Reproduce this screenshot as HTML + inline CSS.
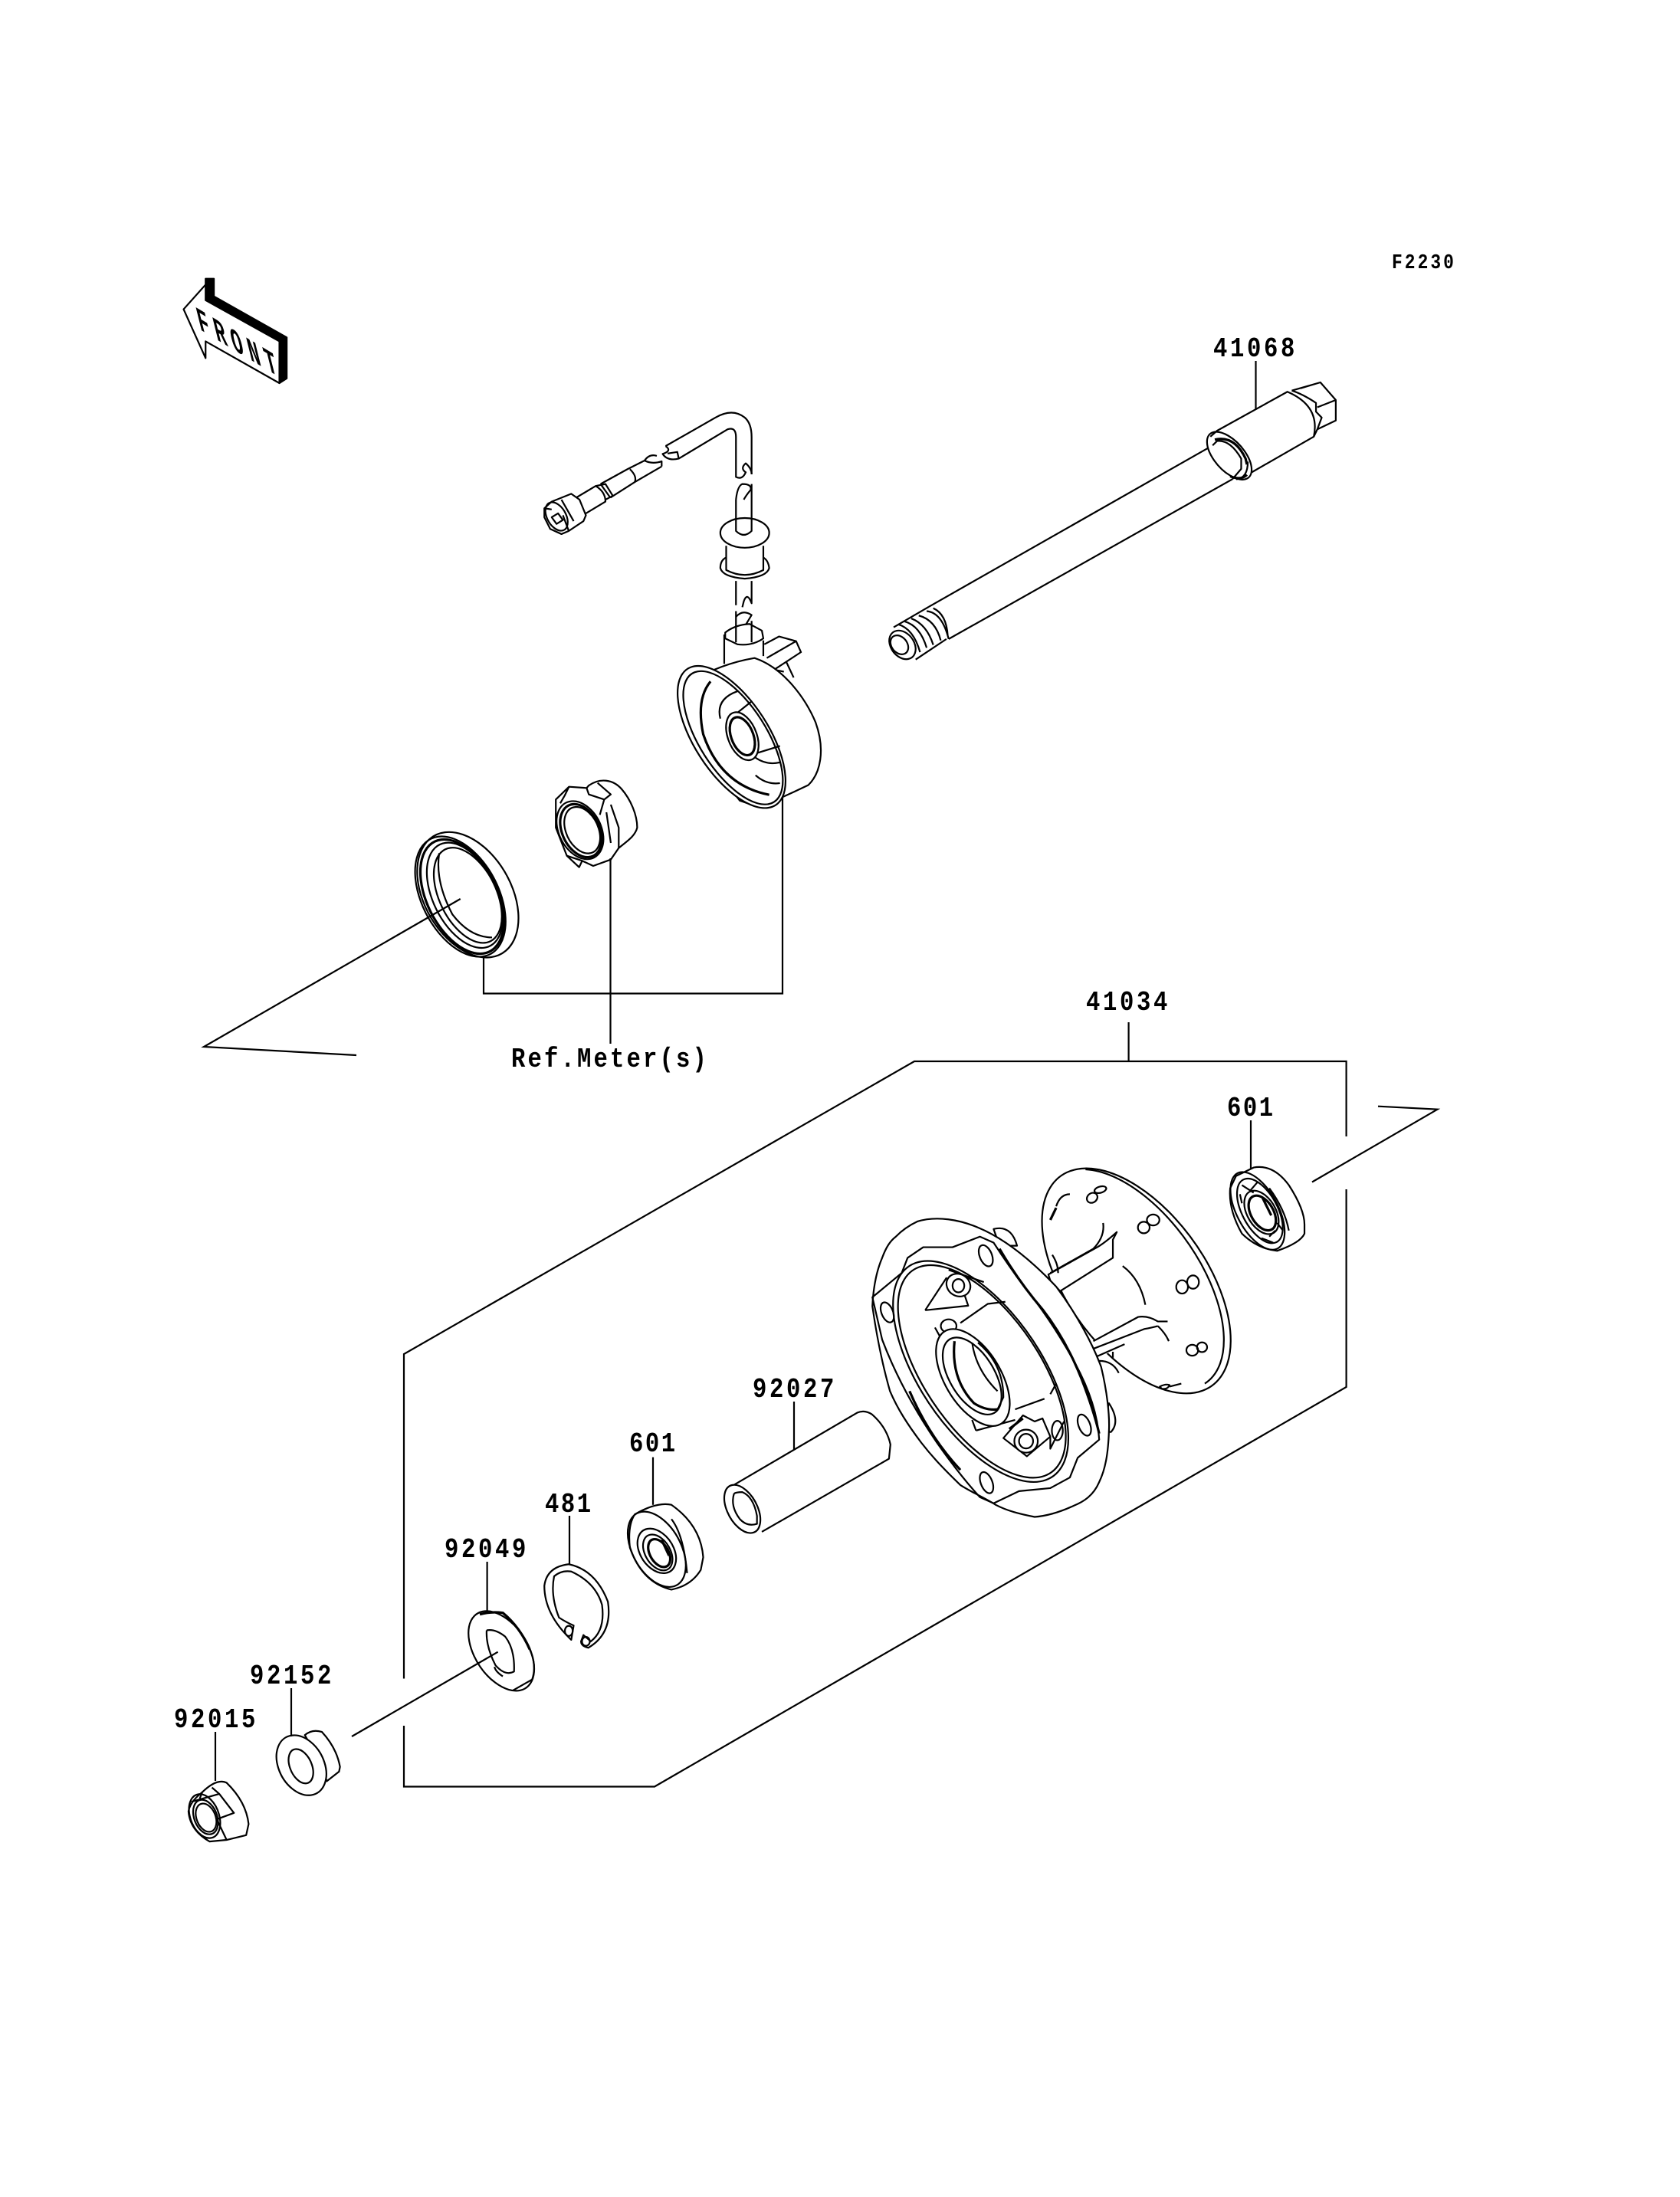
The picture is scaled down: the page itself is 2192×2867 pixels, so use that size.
<!DOCTYPE html>
<html><head><meta charset="utf-8"><style>
html,body{margin:0;padding:0;background:#fff}
svg{display:block}
.p *{vector-effect:non-scaling-stroke;stroke:#000;stroke-width:2.2;fill:none;stroke-linejoin:round}
.p .w{fill:#fff}
.p .t{stroke-width:3.2}
.l{fill:none;stroke:#000;stroke-width:2.2}
text{font-family:"Liberation Mono",monospace;font-weight:bold;fill:#000;font-size:36px;letter-spacing:4.3px}
</style></head><body>
<svg width="2192" height="2867" viewBox="0 0 2192 2867" xmlns="http://www.w3.org/2000/svg">
<rect width="2192" height="2867" fill="#fff"/>

<!-- G1: arrow, cable, meter housing -->
<g class="p" transform="translate(200,300) scale(.6378,.5102)">
<path d="M107,125 L124,125 L124,170 L273,275 L273,380 L258,392 L258,285 L107,180Z" style="fill:#000"/>
<path class="w" d="M62,203 L107,140 L107,180 L258,285 L258,392 L107,285 L107,328Z"/>
<path d="M1048,553 L1150,480 Q1185,455 1210,480 Q1224,495 1224,530 L1224,625"/>
<path d="M1075,585 L1175,510 Q1192,503 1192,530 L1192,632 Q1205,640 1212,620 Q1200,610 1212,597 Q1224,610 1224,625"/>
<path d="M1048,553 Q1062,565 1042,573 Q1052,592 1075,585 L1072,568 L1052,572"/>
<path d="M1030,578 Q1015,572 1005,590 L970,612 L915,650"/>
<path d="M1040,605 L985,645 L935,685"/>
<path d="M1005,590 Q1020,600 1040,592 L1040,605"/>
<path d="M975,612 Q990,630 985,645"/>
<path d="M905,655 L925,650 L940,680 L925,690"/>
<path d="M915,650 L935,685"/>
<path d="M865,685 L905,655 Q925,670 925,695 L885,725"/>
<path class="w" d="M800,712 L815,695 L855,675 L872,690 L885,730 L880,745 L850,770 L835,778 L812,765 L800,735Z"/>
<ellipse cx="825" cy="733" rx="20" ry="38" transform="rotate(-20 825 733)"/>
<path d="M815,735 L828,725 L838,742 L825,752Z"/>
<path d="M835,690 L860,745 M850,770 L838,730 M800,712 L815,715"/>
<ellipse class="w" cx="1210" cy="775" rx="50" ry="38"/>
<path d="M1192,690 L1192,770 Q1208,790 1224,770 L1224,650 M1192,690 Q1195,655 1205,650 Q1225,650 1222,665 Q1212,680 1208,690"/>
<path d="M1172,808 L1172,870 Q1210,895 1248,870 L1248,808"/>
<path d="M1172,838 Q1160,845 1160,865 Q1165,888 1210,892 Q1255,888 1260,865 Q1258,845 1248,838"/>
<path d="M1192,898 L1192,960 M1224,898 L1224,955 Q1215,925 1208,950 L1205,965"/>
<path d="M1192,975 L1192,1055 M1224,1000 L1224,1055 M1192,990 Q1205,970 1224,985 L1212,1010"/>
<path d="M1170,1030 Q1190,1010 1220,1008 L1245,1025 L1248,1045 Q1225,1065 1195,1060 L1170,1045Z"/>
<path d="M1168,1035 L1168,1110 M1248,1050 L1248,1090"/>
<path d="M1250,1060 L1280,1040 L1315,1052 L1325,1080 L1270,1125 M1255,1095 L1315,1052 M1295,1105 L1310,1145 M1270,1125 L1290,1130"/>
<path class="w" d="M1100,1155 Q1160,1110 1230,1095 C1290,1120 1335,1200 1355,1260 C1375,1330 1365,1390 1340,1420 Q1290,1450 1240,1477 L1200,1460 L1100,1300Z"/>
<ellipse class="w" cx="1183" cy="1297" rx="80" ry="197" transform="rotate(-25 1183 1297)"/>
<ellipse cx="1186" cy="1299" rx="72" ry="185" transform="rotate(-25 1186 1299)"/>
<path class="t" d="M1140,1155 Q1110,1200 1125,1290 Q1160,1420 1260,1445"/>
<path d="M1160,1250 Q1150,1200 1195,1180 M1180,1250 L1225,1205 M1230,1340 L1282,1320 M1232,1350 Q1255,1370 1282,1362 M1232,1395 Q1255,1420 1282,1415"/>
<ellipse class="w" cx="1205" cy="1295" rx="30" ry="63" transform="rotate(-15 1205 1295)"/>
<ellipse class="t" cx="1205" cy="1295" rx="23" ry="50" transform="rotate(-15 1205 1295)"/>
</g>

<!-- G2: seal and drive gear -->
<g class="p" transform="translate(200,1000) scale(.574,.3333)">
<ellipse class="w" cx="715" cy="503" rx="105" ry="250" transform="rotate(-12 715 503)"/>
<ellipse cx="698" cy="510" rx="92" ry="240" transform="rotate(-12 698 510)"/>
<ellipse class="t" cx="702" cy="510" rx="84" ry="228" transform="rotate(-12 702 510)"/>
<ellipse cx="708" cy="505" rx="76" ry="210" transform="rotate(-12 708 505)"/>
<ellipse cx="715" cy="505" rx="68" ry="190" transform="rotate(-12 715 505)"/>
<path d="M650,340 Q640,450 680,580 Q720,670 770,670"/>
<path class="w" d="M990,75 C1015,45 1045,50 1065,90 C1085,130 1100,190 1100,240 C1095,275 1075,295 1058,320 L1040,365 L1000,390 L975,370 L968,395 L940,350 L915,240 L915,130 L945,80 L985,85Z"/>
<path d="M985,85 L990,110 L1025,130 L1040,110 L1010,65 M1025,130 L1015,190 M1040,150 L1058,240 L1058,320 M1030,180 L1040,300"/>
<path d="M945,80 L935,115 L925,145 M940,350 L975,370"/>
<ellipse class="w" cx="970" cy="250" rx="50" ry="115" transform="rotate(-10 970 250)"/>
<ellipse class="t" cx="972" cy="252" rx="44" ry="105" transform="rotate(-10 972 252)"/>
<ellipse cx="975" cy="250" rx="38" ry="92" transform="rotate(-10 975 250)"/>
</g>

<!-- G4: axle -->
<g class="p" transform="translate(1100,300) scale(.574,.3827)">
<path d="M195,1285 L840,735 M240,1395 L885,850"/>
<path d="M195,1285 L115,1355 M165,1465 L235,1395"/>
<path d="M190,1300 Q225,1305 240,1395 M205,1290 Q235,1310 238,1385 M172,1315 Q210,1330 222,1400 M155,1325 Q190,1345 205,1415 M140,1335 Q175,1350 190,1425 M125,1345 Q160,1360 175,1440"/>
<ellipse class="w" cx="135" cy="1415" rx="28" ry="50" transform="rotate(-15 135 1415)"/>
<ellipse cx="128" cy="1415" rx="19" ry="33" transform="rotate(-15 128 1415)"/>
<path class="w" d="M850,685 L1010,552 Q1085,600 1070,705 L925,830 L895,850 Z"/>
<ellipse class="w" cx="878" cy="770" rx="38" ry="88" transform="rotate(-25 878 770)"/>
<path class="t" d="M845,715 Q890,700 915,780 L918,800 M880,840 Q905,855 918,835"/>
<path d="M835,705 L850,685 M895,850 Q920,845 920,790"/>
<path d="M840,735 L850,720 Q880,715 905,780 L905,815 L885,850"/>
<path d="M1020,548 L1085,520 L1120,580 L1120,650 L1078,680 L1070,705 M1040,540 L1085,520 M1078,605 L1120,580 M1020,548 Q1045,560 1075,590 L1075,620 L1088,640 L1078,680"/>
</g>

<!-- G3: hub and bearing -->
<g class="p" transform="translate(1100,1420) scale(.5102,.3954)">
<ellipse class="w" cx="750" cy="636" rx="190" ry="400" transform="rotate(-25 750 636)"/>
<path d="M620,268 A180 392 -25 0 1 925,975"/>
<path class="t" d="M530,435 L545,395"/>
<path d="M545,390 Q555,350 580,350"/>
<ellipse cx="637" cy="362" rx="13" ry="17" transform="rotate(20 637 362)"/>
<ellipse cx="658" cy="335" rx="16" ry="10" transform="rotate(-25 658 335)"/>
<ellipse cx="769" cy="460" rx="15" ry="19"/>
<ellipse cx="793" cy="435" rx="16" ry="18"/>
<ellipse cx="867" cy="656" rx="15" ry="22"/>
<ellipse cx="895" cy="640" rx="15" ry="22"/>
<ellipse cx="893" cy="865" rx="15" ry="18"/>
<ellipse cx="918" cy="855" rx="13" ry="16"/>
<path d="M810,985 Q825,975 835,980 Q830,995 815,992Z M835,985 L865,975"/>
<path class="w" d="M525,615 L650,525 Q670,510 700,475 L690,500 L690,560 L555,670 L530,635Z" style="fill:#fff"/>
<path d="M665,445 Q670,490 640,530 L530,610 M535,550 Q550,580 550,610"/>
<path d="M715,587 Q760,630 773,715"/>
<path class="w" d="M640,835 L755,755 L830,770 L805,785 L770,795 L720,845 L690,870 L650,885Z" style="stroke:none"/>
<path d="M640,835 L755,755 Q780,750 805,770 L830,770 M640,860 L770,795 Q790,790 805,785 M650,885 L720,845 M805,785 Q825,810 833,835 M690,870 L690,890 M655,900 Q690,900 705,940"/>
<path class="w" d="M385,465 Q430,450 445,520 L400,520Z"/>
<path class="w" d="M680,1040 Q710,1100 685,1135 L660,1130Z"/>
<path class="w" d="M190,440 C240,420 300,435 345,460 C420,500 490,580 545,655 C600,750 640,850 660,920 C675,1000 682,1080 680,1130 C678,1210 670,1260 655,1300 C640,1345 615,1365 590,1378 C550,1402 520,1412 490,1415 C450,1405 420,1395 390,1375 C360,1350 330,1335 300,1310 C260,1260 230,1220 200,1170 C165,1110 140,1060 120,1000 C100,910 85,810 75,720 C78,640 90,590 100,560 C110,525 120,505 135,490 C150,470 170,452 190,440Z"/>
<path d="M75,690 L150,610 L165,560 L205,525 L280,525 L350,490 L385,510 Q420,580 460,650 Q530,760 590,900 Q650,1040 655,1160 L600,1220 L580,1285 L530,1320 L450,1330 L385,1370 L350,1350 Q300,1280 240,1170 Q150,1000 100,830Z"/>
<path class="t" d="M400,530 Q450,640 510,730 Q570,830 610,960 Q640,1060 655,1140"/>
<ellipse cx="352" cy="935" rx="165" ry="395" transform="rotate(-25 352 935)"/>
<ellipse cx="355" cy="935" rx="157" ry="380" transform="rotate(-25 355 935)"/>
<path class="t" d="M170,1000 Q220,1150 300,1260"/>
<ellipse cx="365" cy="553" rx="16" ry="36" transform="rotate(-15 365 553)"/>
<ellipse cx="113" cy="740" rx="15" ry="34" transform="rotate(-15 113 740)"/>
<ellipse cx="617" cy="1112" rx="15" ry="36" transform="rotate(-15 617 1112)"/>
<ellipse cx="367" cy="1302" rx="15" ry="36" transform="rotate(-15 367 1302)"/>
<path d="M210,733 L265,625 M210,733 L320,718 L310,680 M270,600 L360,640 M300,775 L370,712 L415,705 M235,790 L250,825"/>
<ellipse class="w" cx="295" cy="650" rx="30" ry="38" transform="rotate(-15 295 650)"/>
<ellipse cx="295" cy="652" rx="15" ry="22"/>
<ellipse class="w" cx="270" cy="785" rx="20" ry="22"/>
<path d="M340,1130 L330,1095 M340,1130 L440,1095 M440,1060 L515,1025 M530,1010 L545,975"/>
<path class="w" d="M410,1155 L460,1080 L490,1100 L510,1090 L530,1150 L470,1215Z"/>
<path class="t" d="M425,1125 L460,1090"/>
<ellipse class="w" cx="468" cy="1165" rx="30" ry="38"/>
<ellipse cx="468" cy="1165" rx="18" ry="24"/>
<ellipse class="w" cx="548" cy="1130" rx="14" ry="32"/>
<path d="M530,1150 L530,1190 L565,1100"/>
<ellipse class="w" cx="332" cy="955" rx="75" ry="170" transform="rotate(-22 332 955)"/>
<ellipse cx="330" cy="950" rx="60" ry="135" transform="rotate(-22 330 950)"/>
<path class="t" d="M285,835 Q275,960 335,1040 Q365,1065 395,1060"/>
<path d="M330,840 Q340,930 395,1000 M345,840 Q410,910 410,1020 L395,1060"/>
<path class="w" d="M1005,290 L1050,262 Q1100,250 1140,320 Q1180,400 1180,450 L1180,480 Q1170,510 1110,537 Q1060,530 1020,480 Q985,400 990,330Z"/>
<ellipse cx="1060" cy="405" rx="55" ry="135" transform="rotate(-20 1060 405)"/>
<ellipse cx="1066" cy="405" rx="47" ry="112" transform="rotate(-20 1066 405)"/>
<ellipse cx="1070" cy="410" rx="38" ry="75" transform="rotate(-20 1070 410)"/>
<ellipse class="t" cx="1072" cy="412" rx="30" ry="60" transform="rotate(-20 1072 412)"/>
<path class="t" d="M1072,360 L1095,420"/>
<path d="M1020,320 L1050,345 M1060,310 L1040,340 M1015,350 L1020,380 M1090,490 L1105,470 M1070,495 L1100,510 M1110,445 L1125,470 M1090,330 Q1130,400 1140,470"/>
</g>

<!-- G5: small parts -->
<g class="p" transform="translate(200,1800) scale(.6378,.4145)">
<path d="M1185,335 L1440,105 Q1455,95 1470,110 Q1500,150 1508,205 L1505,250 L1245,480"/>
<ellipse class="w" cx="1205" cy="408" rx="32" ry="78" transform="rotate(-15 1205 408)"/>
<path d="M1188,360 Q1180,400 1200,440 Q1215,465 1235,455 L1235,430 Q1228,370 1205,355 Q1192,355 1188,360"/>
<path class="w" d="M985,425 Q1030,385 1060,395 Q1120,460 1125,560 L1120,600 Q1100,650 1060,662 Q1000,640 975,530 Q970,460 985,425Z"/>
<ellipse cx="1030" cy="535" rx="52" ry="122" transform="rotate(-15 1030 535)"/>
<path d="M1060,440 Q1085,490 1092,610"/>
<ellipse cx="1030" cy="540" rx="36" ry="72" transform="rotate(-15 1030 540)"/>
<ellipse cx="1032" cy="545" rx="27" ry="58" transform="rotate(-15 1032 545)"/>
<ellipse class="t" cx="1035" cy="547" rx="20" ry="45" transform="rotate(-15 1035 547)"/>
<path class="t" d="M1040,505 L1055,555"/>
<path d="M855,820 Q800,740 800,650 Q805,590 850,582 Q905,600 930,700 Q940,800 890,845 Q875,840 875,825 L880,805 L895,825 Q925,790 918,710 Q905,640 855,605 Q835,600 820,620 Q812,680 830,750 Q845,765 860,775 Z"/>
<ellipse cx="850" cy="792" rx="8" ry="16"/>
<ellipse cx="885" cy="825" rx="8" ry="14"/>
<ellipse class="w" cx="712" cy="855" rx="58" ry="130" transform="rotate(-17 712 855)"/>
<path class="t" d="M668,740 Q690,730 715,735 Q750,780 770,850"/>
<path d="M770,850 Q785,900 775,945 L735,980"/>
<path d="M682,790 Q680,840 700,900 Q720,935 738,920 Q740,850 720,810 Q700,785 682,790"/>
<path d="M715,935 Q700,920 698,905"/>
<path class="w" d="M310,1120 Q325,1100 345,1110 Q375,1160 382,1220 L380,1235 L355,1265 L340,1200Z"/>
<ellipse class="w" cx="303" cy="1215" rx="48" ry="96" transform="rotate(-12 303 1215)"/>
<ellipse cx="302" cy="1218" rx="23" ry="55" transform="rotate(-12 302 1218)"/>
<path class="w" d="M100,1300 Q130,1255 150,1270 Q190,1330 195,1400 L190,1435 L150,1450 L115,1455 Q75,1420 72,1360 Q75,1330 100,1300Z"/>
<path d="M78,1330 L135,1305 L165,1365 L130,1385 L150,1450 M100,1300 L95,1320 M135,1305 L120,1285"/>
<ellipse cx="105" cy="1375" rx="30" ry="70" transform="rotate(-10 105 1375)"/>
<ellipse cx="107" cy="1378" rx="24" ry="55" transform="rotate(-10 107 1378)"/>
<ellipse cx="108" cy="1380" rx="20" ry="45" transform="rotate(-10 108 1380)"/>
</g>

<!-- leaders and brackets -->
<g class="l">
<path d="M600.7,1173 L266,1366 L465,1377"/>
<path d="M631,1250 L631,1296.5 L1021,1296.5 L1021,1040"/>
<path d="M796.5,1120 L796.5,1362"/>
<path d="M1638.5,471 L1638.5,534"/>
<path d="M1472.6,1334 L1472.6,1385"/>
<path d="M1756.6,1483 L1756.6,1385 L1193,1385 L527,1767 L527,2190.5"/>
<path d="M527,2252 L527,2331.5 L854,2331.5 L1756.6,1810 L1756.6,1552"/>
<path d="M1712,1542.5 L1875.5,1447.7 L1798,1443.7"/>
<path d="M1632,1462 L1632,1525"/>
<path d="M1036,1829 L1036,1892"/>
<path d="M852,1901.6 L852,1963.8"/>
<path d="M743,1978 L743,2042.5"/>
<path d="M635.6,2038 L635.6,2102.6"/>
<path d="M380,2203 L380,2266"/>
<path d="M281,2260 L281,2324"/>
<path d="M649.6,2155.7 L459,2266"/>
</g>

<!-- labels -->
<text transform="translate(1816,350) scale(.85,1)" style="font-size:27px;letter-spacing:3.56px">F2230</text>
<text transform="translate(1583,465) scale(.85,1)">41068</text>
<text transform="translate(667,1392) scale(.85,1)" style="letter-spacing:3.7px">Ref.Meter(s)</text>
<text transform="translate(1417,1318) scale(.85,1)">41034</text>
<text transform="translate(1601,1456) scale(.85,1)" style="letter-spacing:3px">601</text>
<text transform="translate(982,1823) scale(.85,1)">92027</text>
<text transform="translate(821,1894) scale(.85,1)" style="letter-spacing:3px">601</text>
<text transform="translate(711,1973) scale(.85,1)" style="letter-spacing:3px">481</text>
<text transform="translate(580,2032) scale(.85,1)">92049</text>
<text transform="translate(326,2197) scale(.85,1)">92152</text>
<text transform="translate(227,2254) scale(.85,1)">92015</text>
<text transform="matrix(.55,.33,.25,1,261,430)" style="font-size:46px;letter-spacing:12.4px">FRONT</text>
</svg>
</body></html>
